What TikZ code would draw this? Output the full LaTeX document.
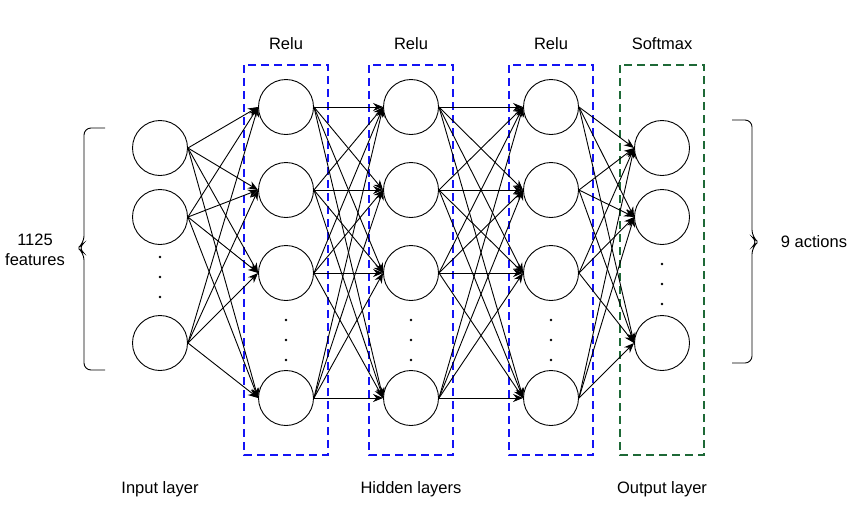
\documentclass[tikz,border=0pt]{standalone}
\usepackage{fontspec}
\setmainfont{Liberation Sans}
\usetikzlibrary{arrows.meta}
\definecolor{boxblue}{RGB}{20,20,245}
\definecolor{boxgreen}{RGB}{30,105,55}

\begin{document}
\begin{tikzpicture}[x=1pt,y=-1pt,
    neuron/.style={draw,circle,minimum size=55pt,inner sep=0pt,line width=0.9pt},
    link/.style={-{Stealth[length=10pt,width=8pt]},line width=0.9pt},
    layerbox/.style={line width=2.8pt,dash pattern=on 8pt off 5pt},
    lbl/.style={font=\fontsize{16.5}{20}\selectfont,align=center}]
    \useasboundingbox (0,0) rectangle (858,520);

    \draw[layerbox,boxblue] (244,65) rectangle (328,455);
    \draw[layerbox,boxblue] (369,65) rectangle (453,455);
    \draw[layerbox,boxblue] (509,65) rectangle (593,455);
    \draw[layerbox,boxgreen] (620,65) rectangle (704,455);

    \foreach \n/\y in {1/148,2/217,3/343} {
        \node[neuron] (i\n) at (160,\y) {};
        \node[neuron] (o\n) at (662,\y) {};
    }
    \foreach \n/\y in {1/107,2/190,3/273,4/398} {
        \node[neuron] (a\n) at (286,\y) {};
        \node[neuron] (b\n) at (411,\y) {};
        \node[neuron] (c\n) at (551,\y) {};
    }

    \foreach \y in {257,277,297} \fill (160,\y) circle (1.4);
    \foreach \x in {286,411,551} \foreach \y in {320,340,360} \fill (\x,\y) circle (1.4);
    \foreach \y in {264,284,304} \fill (662,\y) circle (1.4);

    \foreach \s in {1,2,3} \foreach \t in {1,2,3,4} \draw[link] (i\s.east) -- (a\t.west);
    \foreach \s in {1,2,3,4} \foreach \t in {1,2,3,4} {
        \draw[link] (a\s.east) -- (b\t.west);
        \draw[link] (b\s.east) -- (c\t.west);
    }
    \foreach \s in {1,2,3,4} \foreach \t in {1,2,3} \draw[link] (c\s.east) -- (o\t.west);

    \draw[rounded corners=7pt,line width=0.9pt] (105,128) -- (84,128) -- (84,243) -- (78,248) -- (84,253) -- (84,370) -- (105,370);
    \draw[rounded corners=7pt,line width=0.9pt] (732,120) -- (752,120) -- (752,237) -- (758,242) -- (752,247) -- (752,363) -- (732,363);

    \node[lbl] (relu1) at (286,44) {Relu};
    \node[lbl] (relu2) at (411,44) {Relu};
    \node[lbl] (relu3) at (551,44) {Relu};
    \node[lbl] (soft) at (662,44) {Softmax};
    \node[lbl] (feat) at (35,250) {1125\\features};
    \node[lbl] (act) at (814,242) {9 actions};
    \node[lbl] (inlbl) at (160,489) {Input layer};
    \node[lbl] (hidlbl) at (411,489) {Hidden layers};
    \node[lbl] (outlbl) at (662,489) {Output layer};
    \end{tikzpicture}
\end{document}
